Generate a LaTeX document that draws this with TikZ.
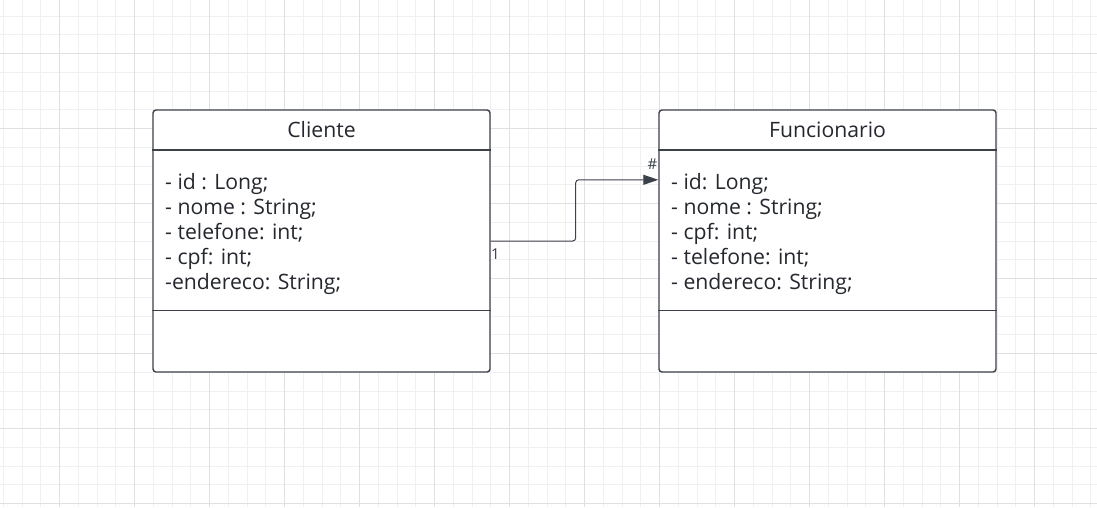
\documentclass[tikz,border=0pt]{standalone}
\usepackage{fontspec}
\setmainfont{Open Sans}
\usepackage{tikz}
\usetikzlibrary{calc}
\usetikzlibrary{arrows.meta}
\definecolor{umlline}{HTML}{3B4049}
\definecolor{umltext}{HTML}{25282E}
\definecolor{gridminor}{HTML}{F0F0F0}
\definecolor{gridmajor}{HTML}{E0E0E0}
\tikzstyle{classbox} = [draw=umlline,line width=1.4pt,rounded corners=3pt,fill=white,minimum width=337pt,minimum height=262pt,inner sep=0pt]
\tikzstyle{sep} = [draw=umlline,line width=1.4pt]
\tikzstyle{head} = [anchor=base,inner sep=0pt,text=umltext,font=\fontsize{21.2}{25}\selectfont]
\tikzstyle{attr} = [anchor=base west,inner sep=0pt,text=umltext,font=\fontsize{21.2}{25}\selectfont]
\tikzstyle{mult} = [anchor=base west,inner sep=0pt,text=umlline,font=\fontsize{15}{18}\selectfont]
\tikzstyle{assoc} = [draw=umlline,line width=1pt,rounded corners=3pt,-{Triangle[length=15pt,width=10pt]}]

\begin{document}
\begin{tikzpicture}[x=1pt,y=-1pt]
\useasboundingbox (0,0) rectangle (1097,507);
\fill[white] (0,0) rectangle (1097,507);
% grid
\foreach \k in {0,...,58} \draw[gridminor] (3.05+18.75*\k,0) -- (3.05+18.75*\k,507);
\foreach \k in {0,...,26} \draw[gridminor] (0,15.8+18.75*\k) -- (1097,15.8+18.75*\k);
\foreach \k in {0,...,13} \draw[gridmajor] (59.3+75*\k,0) -- (59.3+75*\k,507);
\foreach \k in {0,...,6} \draw[gridmajor] (0,53.3+75*\k) -- (1097,53.3+75*\k);

% Cliente
\node[classbox] (cliente) at (321.5,241) {};
\draw[sep] ($(cliente.north west)+(0,40.7)$) -- ($(cliente.north east)+(0,40.7)$);
\draw[sep] ($(cliente.north west)+(0,201.3)$) -- ($(cliente.north east)+(0,201.3)$);
\draw(321.5,137.7) node[head] (clihead) {Cliente};
\draw(165,189.5) node[attr] (cli1) {- id : Long;};
\draw(165,214.6) node[attr] (cli2) {- nome : String;};
\draw(165,239.7) node[attr] (cli3) {- telefone: int;};
\draw(165,264.8) node[attr] (cli4) {- cpf: int;};
\draw(165,289.9) node[attr] (cli5) {-endereco: String;};

% Funcionario
\node[classbox] (funcionario) at (827.5,241) {};
\draw[sep] ($(funcionario.north west)+(0,40.7)$) -- ($(funcionario.north east)+(0,40.7)$);
\draw[sep] ($(funcionario.north west)+(0,201.3)$) -- ($(funcionario.north east)+(0,201.3)$);
\draw(827.5,137.7) node[head] (funhead) {Funcionario};
\draw(671,189.5) node[attr] (fun1) {- id: Long;};
\draw(671,214.6) node[attr] (fun2) {- nome : String;};
\draw(671,239.7) node[attr] (fun3) {- cpf: int;};
\draw(671,264.8) node[attr] (fun4) {- telefone: int;};
\draw(671,289.9) node[attr] (fun5) {- endereco: String;};

% association
\coordinate (funin) at ($(funcionario.north west)+(0,70.5)$);
\draw[assoc] (cliente.east) -- ++(85,0) |- (funin);
\draw(491,259.3) node[mult] (climult) {1};
\draw(647.5,169) node[mult] (funmult) {\#};

\end{tikzpicture}
\end{document}
